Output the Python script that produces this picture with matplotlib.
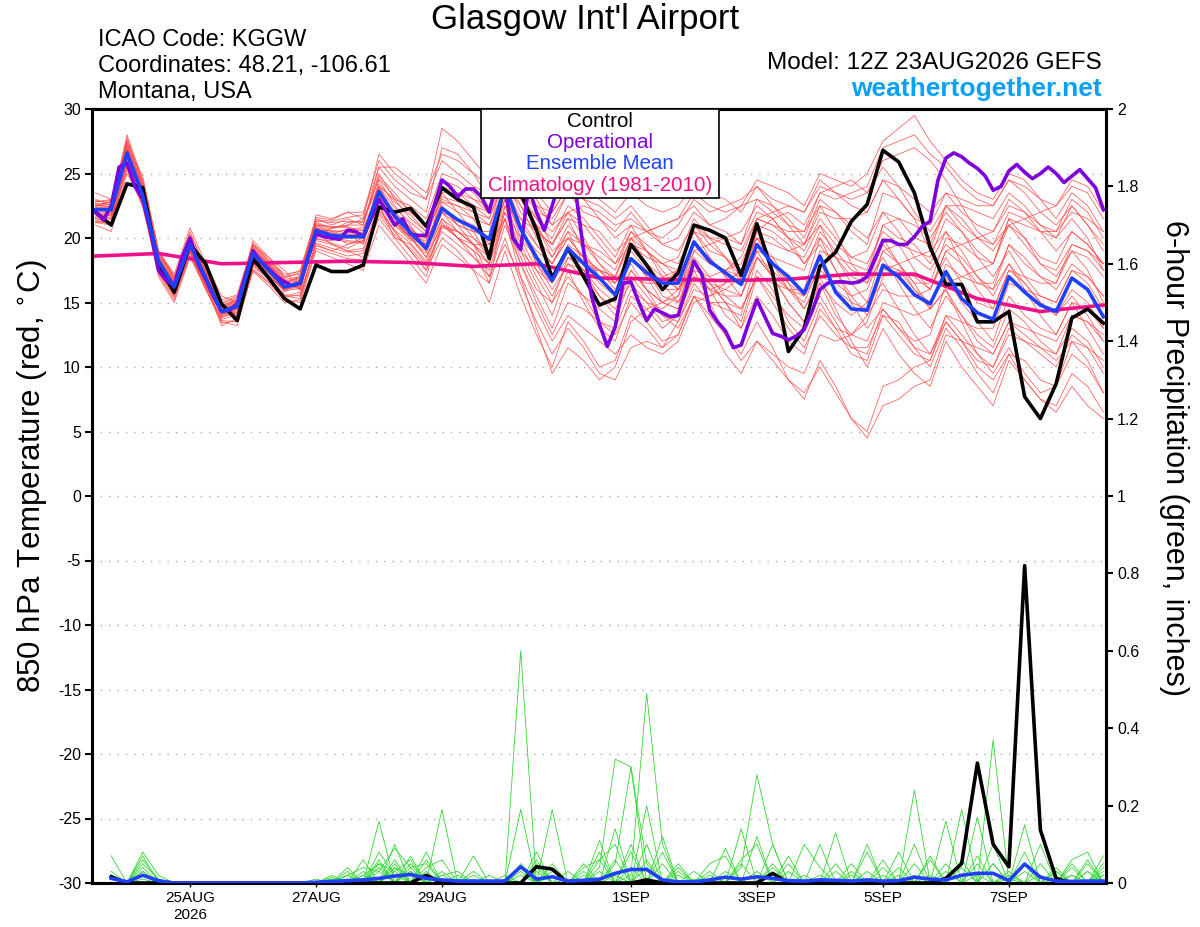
import numpy as np
import pandas as pd
import matplotlib
matplotlib.use("Agg")
import matplotlib.pyplot as plt
from matplotlib.patches import Rectangle
from matplotlib.ticker import FuncFormatter

plt.rcParams['font.family'] = ['Liberation Sans', 'DejaVu Sans']
plt.rcParams['axes.unicode_minus'] = False

# time axes (GEFS 12Z 23AUG2026 run, 6-hourly; operational 3-hourly; climatology daily)
start = pd.Timestamp("2026-08-23 12:00")
times = pd.date_range(start, periods=65, freq="6h").to_numpy()
op_times = pd.date_range(start, periods=129, freq="3h").to_numpy()
clim_times = pd.date_range(start, periods=17, freq="1D").to_numpy()
precip_times = times[1:]

tick_dates = pd.to_datetime(["2026-08-25", "2026-08-27", "2026-08-29", "2026-09-01",
                             "2026-09-03", "2026-09-05", "2026-09-07"]).to_numpy()
tick_labels = ["25AUG\n2026", "27AUG", "29AUG", "1SEP", "3SEP", "5SEP", "7SEP"]

# 850 hPa temperature (C)
control_temp = [22.0, 21.0, 24.2, 23.9, 17.8, 15.8, 19.5, 18.0, 14.9, 13.6,
                18.4, 16.9, 15.3, 14.5, 17.9, 17.4, 17.4, 17.9, 22.4, 22.0,
                22.3, 20.9, 23.9, 23.0, 22.4, 18.4, 24.5, 23.5, 20.6, 16.9,
                19.2, 17.0, 14.8, 15.3, 19.5, 17.9, 16.0, 17.3, 21.0, 20.6,
                20.0, 17.1, 21.1, 17.3, 11.2, 13.0, 17.8, 18.9, 21.3, 22.6,
                26.8, 25.9, 23.5, 19.3, 16.4, 16.4, 13.5, 13.5, 14.3, 7.7,
                6.0, 8.7, 13.8, 14.5, 13.4]

mean_temp = [22.2, 22.2, 26.6, 23.3, 18.2, 16.2, 19.5, 16.9, 14.3, 14.7,
             18.8, 17.5, 16.2, 16.5, 20.6, 20.2, 20.1, 20.1, 23.6, 21.7,
             20.4, 19.2, 22.3, 21.4, 20.8, 19.9, 24.0, 20.7, 18.5, 16.7,
             19.2, 18.0, 16.9, 15.6, 18.4, 17.3, 16.5, 16.5, 19.7, 18.2,
             17.3, 16.4, 19.5, 18.0, 17.0, 15.7, 18.6, 15.8, 14.5, 14.4,
             17.9, 17.0, 15.6, 14.9, 17.4, 15.3, 14.2, 13.7, 17.0, 15.8,
             14.8, 14.3, 16.9, 16.0, 13.9]

oper_temp = [22.0, 21.4, 22.5, 25.5, 25.8, 24.0, 23.0, 20.5, 17.5, 16.7,
             16.3, 18.5, 20.0, 18.0, 16.8, 15.5, 14.3, 14.4, 14.9, 17.0,
             19.0, 18.2, 17.6, 17.0, 16.6, 16.3, 16.5, 18.5, 20.3, 20.1,
             20.0, 19.9, 20.6, 20.5, 20.1, 21.5, 23.0, 22.0, 21.0, 21.5,
             20.3, 20.2, 20.2, 22.5, 24.5, 24.0, 23.2, 23.8, 23.8, 23.2,
             22.0, 24.5, 24.0, 20.0, 19.1, 24.0, 22.0, 20.6, 22.5, 24.5,
             25.0, 23.5, 19.0, 15.5, 13.3, 11.6, 13.1, 16.5, 16.6, 15.0,
             13.6, 14.5, 14.2, 13.9, 14.0, 16.0, 18.2, 17.2, 14.4, 13.5,
             12.8, 11.5, 11.7, 13.5, 15.2, 13.9, 12.6, 12.4, 12.1, 12.4,
             12.9, 14.3, 16.0, 16.5, 16.6, 16.6, 16.5, 16.6, 17.0, 18.4,
             19.8, 19.8, 19.5, 19.5, 20.1, 20.9, 21.3, 24.5, 26.2, 26.6,
             26.3, 25.8, 25.4, 24.8, 23.7, 24.0, 25.2, 25.7, 25.1, 24.6,
             25.0, 25.5, 25.0, 24.3, 24.8, 25.3, 24.6, 23.9, 22.2]

clim_temp = [18.6, 18.8, 18.0, 18.1, 18.2, 18.1, 17.8, 18.0, 16.9,
             16.8, 16.7, 16.8, 17.2, 17.2, 15.3, 14.3, 14.8]

member_temps = [
    [22.5, 22.8, 27.5, 24.0, 18.5, 16.0, 19.8, 17.0, 14.0, 14.2, 19.2, 18.0, 16.5, 16.0, 21.0, 20.5, 19.5, 19.8, 24.5, 22.5, 21.0, 19.0, 23.5, 22.0, 20.5, 18.5, 22.0, 19.0, 16.5, 14.0, 17.5, 15.0, 13.0, 12.0, 15.5, 14.5, 13.0, 14.0, 17.0, 16.5, 15.0, 13.5, 17.5, 16.0, 13.5, 12.0, 15.0, 13.0, 11.0, 10.5, 14.0, 13.5, 11.5, 10.0, 13.0, 11.5, 9.5, 8.0, 11.0, 10.5, 9.0, 8.5, 11.0, 10.0, 8.0],
    [21.8, 21.5, 26.0, 23.0, 17.8, 16.5, 19.0, 16.5, 14.5, 15.0, 18.5, 17.0, 16.0, 17.0, 20.0, 20.8, 21.0, 21.5, 24.0, 23.0, 22.5, 21.5, 25.0, 24.5, 23.5, 22.0, 25.5, 23.0, 21.0, 20.0, 22.5, 21.5, 20.0, 18.5, 21.0, 20.5, 19.5, 20.0, 22.0, 21.0, 20.5, 19.5, 22.0, 21.5, 20.0, 19.0, 21.5, 20.0, 18.5, 19.0, 22.0, 21.5, 20.0, 19.5, 22.5, 21.0, 20.0, 19.5, 22.0, 21.5, 20.5, 20.0, 22.5, 21.0, 19.5],
    [22.0, 22.0, 26.8, 23.5, 18.0, 15.5, 19.5, 17.0, 14.8, 14.0, 18.0, 17.5, 16.8, 16.0, 20.5, 19.5, 19.0, 18.5, 22.0, 20.5, 19.0, 17.5, 20.0, 19.0, 17.5, 15.0, 19.0, 15.5, 12.5, 10.0, 13.5, 12.0, 10.0, 10.5, 14.0, 13.0, 11.5, 13.5, 16.5, 15.0, 14.5, 14.0, 18.5, 17.0, 16.0, 15.5, 19.0, 18.5, 18.0, 17.5, 21.0, 20.0, 19.5, 18.0, 20.5, 19.0, 17.0, 15.5, 18.0, 16.0, 14.0, 12.5, 15.0, 13.0, 11.0],
    [23.0, 22.5, 28.0, 24.5, 19.0, 17.0, 20.5, 17.5, 15.0, 15.5, 19.5, 18.5, 17.0, 17.5, 21.5, 21.0, 21.5, 21.0, 25.5, 24.0, 23.0, 22.0, 27.0, 26.5, 25.0, 23.0, 26.5, 24.5, 22.5, 21.0, 23.5, 22.0, 21.5, 20.0, 21.0, 19.0, 17.5, 16.0, 18.0, 16.5, 15.0, 13.0, 15.5, 14.0, 12.0, 11.0, 14.5, 13.0, 12.5, 13.5, 17.0, 17.5, 17.0, 16.0, 19.0, 18.0, 16.5, 16.0, 19.5, 18.5, 17.0, 16.5, 19.0, 18.5, 17.0],
    [21.5, 21.2, 25.5, 22.5, 17.5, 15.8, 19.0, 16.0, 13.8, 14.5, 18.0, 17.0, 15.5, 15.8, 19.5, 19.0, 19.5, 20.0, 22.5, 20.0, 18.5, 17.0, 21.0, 20.5, 19.5, 18.0, 24.0, 22.5, 21.0, 19.0, 20.0, 18.5, 17.5, 16.0, 18.5, 17.0, 15.0, 14.5, 19.0, 19.5, 20.0, 19.5, 23.0, 22.5, 21.5, 20.0, 23.0, 22.0, 20.5, 19.5, 23.5, 23.0, 21.5, 19.0, 20.5, 18.0, 16.0, 14.5, 17.5, 17.0, 16.5, 16.5, 19.5, 19.0, 18.0],
    [22.3, 22.5, 27.0, 23.8, 18.6, 16.4, 19.7, 16.8, 14.0, 14.6, 19.0, 17.6, 16.3, 16.4, 20.8, 20.0, 20.5, 20.0, 23.8, 21.5, 20.0, 18.8, 22.0, 20.5, 19.5, 18.0, 21.5, 18.0, 15.5, 13.0, 16.5, 15.5, 14.5, 13.5, 17.0, 16.5, 16.5, 17.5, 20.5, 19.0, 18.5, 17.0, 20.0, 18.5, 16.5, 14.5, 17.0, 14.5, 12.0, 10.0, 13.0, 11.0, 9.5, 8.5, 12.0, 10.0, 8.5, 7.0, 10.5, 9.0, 7.5, 7.0, 9.5, 8.5, 6.5],
    [21.0, 20.5, 25.0, 22.8, 17.0, 15.0, 18.5, 16.5, 13.5, 13.2, 17.5, 16.5, 15.2, 15.0, 19.0, 18.5, 18.0, 17.5, 21.0, 19.5, 18.0, 16.5, 19.5, 18.5, 17.5, 16.5, 22.5, 21.5, 20.5, 19.5, 22.0, 22.5, 22.0, 21.0, 21.5, 20.5, 21.0, 21.5, 22.5, 21.0, 21.5, 22.5, 23.0, 22.0, 21.0, 20.5, 22.5, 20.5, 18.0, 16.5, 18.5, 16.5, 14.5, 13.0, 15.5, 14.0, 12.5, 11.5, 14.5, 13.5, 12.0, 11.0, 14.0, 13.5, 12.0],
    [22.8, 23.0, 26.2, 23.0, 18.0, 16.0, 19.2, 16.2, 14.2, 14.8, 18.6, 17.2, 15.8, 16.8, 20.3, 20.0, 20.0, 20.5, 23.0, 21.0, 20.0, 19.5, 22.5, 21.0, 20.5, 20.0, 24.5, 21.0, 18.0, 16.5, 18.5, 17.5, 16.0, 15.0, 19.5, 18.5, 18.0, 18.5, 21.5, 20.0, 18.5, 16.5, 19.0, 17.0, 15.0, 13.5, 16.5, 15.0, 14.0, 15.0, 19.0, 19.5, 19.0, 18.5, 21.5, 20.5, 19.0, 18.0, 21.5, 20.0, 18.0, 17.0, 19.0, 17.5, 15.0],
    [22.0, 21.8, 26.5, 23.2, 18.3, 16.6, 19.6, 16.6, 14.4, 15.0, 19.0, 17.8, 16.6, 16.2, 20.5, 20.6, 20.4, 19.5, 23.5, 21.8, 20.5, 19.0, 22.0, 21.5, 20.0, 18.5, 23.0, 19.5, 17.0, 15.0, 17.0, 15.5, 13.5, 12.5, 15.0, 13.5, 12.0, 12.5, 15.5, 14.0, 12.5, 11.0, 13.5, 11.5, 9.0, 7.5, 10.5, 8.5, 6.0, 5.0, 8.5, 9.0, 10.0, 10.5, 14.0, 13.5, 13.0, 13.0, 16.5, 16.0, 15.5, 15.0, 17.5, 17.0, 15.5],
    [22.6, 22.2, 27.8, 24.2, 18.8, 16.8, 20.2, 17.2, 14.6, 15.2, 19.5, 18.2, 17.0, 17.2, 21.2, 20.8, 21.0, 21.0, 24.8, 23.5, 22.0, 21.0, 24.0, 23.0, 22.0, 21.5, 25.0, 22.5, 20.0, 18.5, 21.0, 19.5, 18.0, 17.0, 20.0, 19.0, 18.0, 17.5, 21.0, 20.0, 19.5, 19.0, 21.5, 21.0, 20.5, 20.5, 23.5, 23.0, 23.5, 24.0, 27.0, 27.5, 28.0, 26.5, 25.5, 24.0, 23.0, 22.5, 24.5, 24.0, 23.0, 22.5, 24.0, 23.5, 21.5],
    [21.5, 21.8, 26.0, 22.8, 17.6, 15.5, 19.0, 16.8, 14.5, 14.2, 18.2, 17.0, 16.0, 16.6, 20.0, 19.6, 19.2, 19.8, 22.8, 21.0, 19.8, 19.6, 22.8, 22.0, 21.5, 21.0, 23.5, 20.0, 17.5, 15.5, 18.0, 17.0, 15.5, 14.0, 17.5, 16.0, 15.0, 15.5, 19.5, 18.5, 17.0, 15.5, 18.5, 17.5, 16.0, 15.0, 18.0, 16.0, 15.0, 14.5, 18.0, 17.5, 16.0, 15.0, 17.0, 15.0, 13.5, 12.0, 15.5, 14.0, 13.0, 12.5, 15.0, 14.5, 13.0],
    [23.5, 23.0, 27.2, 24.8, 19.0, 17.2, 20.8, 18.0, 15.5, 15.0, 19.8, 18.5, 17.5, 16.0, 21.8, 21.5, 22.0, 21.5, 26.5, 25.0, 24.0, 23.0, 28.5, 27.5, 26.0, 24.5, 27.0, 23.5, 21.0, 18.5, 20.5, 18.0, 16.5, 15.5, 17.5, 16.0, 15.0, 14.5, 17.0, 16.0, 15.5, 15.5, 19.0, 18.5, 18.0, 17.5, 20.5, 19.0, 17.5, 17.0, 20.0, 18.0, 16.5, 14.5, 16.0, 13.5, 11.0, 9.5, 11.5, 9.5, 8.0, 8.5, 12.0, 11.5, 10.5],
    [22.1, 22.4, 26.4, 23.6, 18.4, 16.2, 19.3, 17.1, 14.1, 14.3, 18.4, 17.3, 16.1, 16.8, 20.9, 20.3, 20.7, 20.8, 23.2, 21.5, 20.0, 20.0, 22.0, 21.0, 20.5, 20.5, 25.5, 23.5, 21.5, 19.5, 21.5, 19.0, 17.0, 16.5, 19.0, 17.5, 15.5, 15.0, 18.0, 16.0, 14.0, 13.0, 17.0, 16.5, 16.0, 16.0, 20.0, 18.5, 17.0, 16.5, 19.5, 18.0, 16.5, 16.5, 20.0, 19.5, 18.5, 18.0, 21.5, 21.0, 20.5, 20.5, 23.0, 22.0, 20.0],
    [21.2, 21.0, 25.8, 22.6, 17.3, 15.4, 18.8, 16.4, 13.2, 13.8, 17.8, 16.8, 15.5, 15.3, 19.8, 19.5, 19.0, 19.2, 22.5, 20.5, 19.0, 17.5, 21.0, 20.0, 19.0, 16.5, 20.0, 16.5, 13.5, 11.0, 13.0, 11.5, 9.5, 9.0, 11.5, 12.0, 11.5, 12.5, 15.5, 15.0, 15.0, 14.5, 17.0, 15.5, 14.0, 13.0, 15.5, 13.5, 11.5, 11.0, 14.5, 13.0, 11.5, 11.0, 14.0, 12.5, 11.0, 10.0, 13.0, 12.0, 11.0, 10.0, 12.5, 11.5, 9.5],
    [22.9, 22.7, 26.9, 23.4, 18.1, 16.7, 19.9, 17.4, 14.7, 15.3, 19.1, 17.7, 16.4, 17.1, 21.3, 21.2, 21.3, 21.2, 25.0, 23.0, 21.5, 20.5, 23.0, 22.5, 22.0, 21.0, 24.0, 21.5, 19.5, 18.0, 20.5, 19.5, 18.5, 17.5, 20.5, 19.5, 18.5, 18.0, 20.5, 18.5, 17.0, 16.5, 20.5, 20.0, 19.0, 18.5, 21.0, 19.5, 18.5, 18.0, 20.5, 19.5, 17.5, 16.0, 18.5, 16.5, 15.0, 14.5, 17.5, 16.5, 15.0, 14.0, 16.0, 15.0, 13.0],
    [21.7, 21.6, 26.3, 23.1, 17.9, 16.1, 19.4, 16.3, 14.3, 14.9, 18.7, 17.4, 16.2, 16.3, 20.4, 20.1, 19.8, 19.7, 23.3, 21.2, 20.2, 18.5, 21.5, 20.5, 19.5, 18.5, 22.5, 19.0, 17.5, 16.5, 19.5, 18.5, 17.5, 16.5, 18.5, 17.0, 16.0, 16.0, 18.5, 17.0, 15.5, 14.5, 17.0, 15.0, 13.0, 11.5, 14.0, 12.5, 11.5, 11.5, 14.0, 12.5, 11.0, 10.5, 13.5, 12.0, 10.0, 9.0, 11.0, 9.0, 7.5, 6.5, 8.5, 7.0, 6.0],
    [22.4, 22.9, 27.3, 23.9, 18.7, 16.9, 20.0, 17.3, 14.9, 14.4, 18.9, 17.9, 16.7, 16.9, 21.0, 20.9, 20.9, 20.3, 24.2, 22.8, 21.8, 20.5, 24.5, 24.0, 23.0, 22.5, 26.0, 24.0, 22.0, 21.5, 23.5, 23.0, 22.5, 21.5, 22.5, 21.0, 19.5, 19.0, 21.0, 19.5, 18.5, 17.5, 20.0, 18.0, 16.0, 14.5, 16.5, 14.0, 12.5, 12.0, 15.0, 14.5, 14.0, 14.5, 18.0, 17.0, 16.5, 16.5, 19.5, 18.0, 17.0, 16.0, 18.0, 17.0, 15.5],
    [21.9, 21.4, 26.1, 22.9, 17.7, 15.9, 19.1, 16.6, 13.9, 14.1, 18.3, 17.1, 15.9, 16.1, 19.9, 19.8, 20.2, 20.4, 23.0, 21.2, 20.0, 19.8, 22.2, 21.5, 21.0, 20.0, 23.0, 20.5, 19.0, 18.0, 20.0, 18.5, 17.0, 15.5, 17.0, 15.5, 14.0, 13.0, 15.5, 13.5, 11.0, 9.5, 12.0, 10.5, 9.0, 8.0, 10.0, 8.0, 6.0, 4.5, 7.0, 7.5, 8.5, 9.0, 12.5, 12.0, 11.5, 11.0, 13.5, 13.0, 12.5, 12.0, 14.0, 13.5, 12.5],
    [22.7, 22.6, 27.6, 24.4, 19.0, 17.0, 20.3, 17.8, 15.2, 15.6, 19.6, 18.3, 17.2, 17.4, 21.6, 21.4, 22.0, 22.0, 26.0, 24.5, 23.5, 23.0, 26.0, 25.0, 24.0, 23.5, 27.5, 26.0, 23.5, 22.0, 24.0, 23.0, 21.5, 20.5, 22.0, 20.5, 20.0, 21.0, 23.0, 22.0, 22.5, 23.0, 24.0, 23.0, 22.5, 22.0, 24.5, 23.5, 22.5, 22.0, 24.5, 24.0, 23.0, 22.0, 23.5, 22.0, 21.0, 20.5, 22.5, 22.0, 21.0, 20.5, 22.0, 21.5, 20.5],
    [21.3, 21.2, 25.6, 22.7, 17.4, 15.6, 18.6, 16.0, 13.6, 13.5, 17.6, 16.6, 15.4, 15.6, 19.4, 19.0, 18.6, 18.8, 21.5, 20.0, 19.5, 18.0, 20.5, 19.5, 18.5, 17.0, 21.0, 18.0, 15.0, 12.5, 15.0, 14.5, 13.5, 13.0, 16.0, 15.0, 14.5, 15.5, 18.0, 16.5, 16.0, 15.5, 18.5, 17.0, 15.0, 13.5, 17.0, 16.5, 16.5, 17.0, 21.0, 21.5, 21.0, 20.0, 22.0, 20.5, 18.5, 17.0, 19.0, 17.0, 15.5, 15.0, 17.5, 16.5, 14.5],
    [22.2, 22.0, 26.7, 23.6, 18.4, 16.3, 19.6, 16.9, 14.4, 14.9, 18.9, 17.6, 16.3, 16.6, 20.7, 20.4, 20.3, 20.0, 23.9, 22.0, 20.8, 19.5, 22.8, 22.5, 21.5, 19.5, 21.5, 18.5, 16.0, 15.0, 18.5, 18.0, 17.5, 17.0, 20.0, 20.5, 21.0, 21.5, 23.5, 22.5, 22.0, 22.5, 24.5, 24.0, 23.5, 22.5, 25.0, 24.5, 24.0, 25.0, 27.5, 28.5, 29.5, 27.5, 26.0, 24.5, 23.5, 23.0, 25.0, 24.5, 23.0, 21.5, 23.5, 22.5, 20.5],
    [21.6, 21.9, 26.2, 23.0, 17.9, 16.0, 19.3, 16.7, 14.2, 14.5, 18.6, 17.4, 16.0, 16.4, 20.4, 20.0, 20.0, 20.2, 23.4, 21.5, 20.6, 20.0, 23.5, 23.5, 23.0, 22.0, 26.0, 25.0, 23.0, 21.0, 22.0, 20.0, 18.0, 16.5, 18.0, 16.0, 14.0, 13.5, 16.0, 15.5, 16.0, 17.0, 20.5, 21.5, 22.0, 21.0, 23.5, 24.0, 24.5, 23.5, 25.5, 24.0, 22.0, 20.5, 22.5, 21.5, 20.0, 19.0, 21.0, 19.5, 18.0, 17.5, 19.5, 19.0, 17.5],
    [22.4, 22.1, 26.9, 23.7, 18.5, 16.5, 19.8, 17.0, 14.6, 15.1, 19.2, 17.9, 16.6, 16.7, 20.8, 20.5, 20.6, 20.6, 23.7, 21.9, 20.7, 19.3, 22.4, 21.0, 19.5, 17.0, 19.5, 17.0, 14.5, 12.0, 14.0, 13.0, 12.0, 11.0, 12.5, 11.5, 11.0, 12.0, 15.0, 15.5, 16.5, 17.5, 20.0, 19.5, 19.0, 19.5, 22.0, 21.5, 21.5, 22.0, 24.5, 23.0, 21.5, 21.0, 23.5, 23.0, 22.5, 22.5, 24.5, 23.5, 22.0, 21.0, 22.5, 21.0, 19.0],
    [22.0, 22.3, 26.5, 23.3, 18.2, 16.2, 19.4, 16.7, 14.3, 14.6, 18.8, 17.5, 16.1, 16.5, 20.5, 20.2, 20.1, 20.1, 23.6, 21.7, 20.3, 19.0, 21.5, 20.0, 19.5, 19.5, 23.0, 21.0, 19.5, 18.0, 20.0, 19.5, 19.0, 18.0, 20.5, 19.0, 17.0, 16.0, 17.5, 15.0, 12.5, 10.5, 12.0, 11.0, 10.0, 9.5, 12.5, 12.0, 12.5, 14.0, 17.5, 18.0, 18.5, 19.0, 22.5, 22.5, 22.0, 21.5, 23.5, 22.5, 21.0, 20.0, 21.5, 20.0, 17.5],
    [22.8, 22.9, 27.4, 24.1, 18.9, 16.9, 20.1, 17.6, 14.9, 15.4, 19.4, 18.1, 16.9, 17.3, 21.4, 21.3, 21.6, 21.8, 25.5, 25.5, 24.5, 23.5, 26.5, 26.0, 25.0, 24.0, 26.5, 24.0, 22.5, 22.0, 24.0, 24.0, 23.0, 22.0, 23.5, 22.5, 22.0, 22.5, 24.0, 23.5, 23.0, 22.0, 24.0, 22.5, 21.0, 19.5, 21.0, 18.5, 16.5, 15.0, 16.5, 14.5, 12.5, 11.0, 13.5, 12.0, 10.5, 10.0, 12.5, 12.0, 11.5, 11.0, 13.0, 12.0, 10.0],
    [21.4, 21.0, 25.3, 22.4, 17.2, 15.2, 18.6, 16.1, 13.4, 13.6, 17.4, 16.3, 15.0, 15.2, 19.2, 18.8, 18.4, 18.3, 21.8, 20.2, 19.2, 17.8, 20.8, 20.5, 20.0, 19.0, 23.5, 21.0, 18.0, 16.0, 18.0, 17.5, 17.5, 17.0, 19.5, 19.0, 18.0, 17.0, 19.5, 18.0, 17.5, 18.0, 21.0, 20.5, 19.5, 18.0, 20.0, 17.5, 15.5, 14.0, 16.0, 15.5, 15.5, 16.0, 19.0, 19.5, 20.0, 20.5, 23.0, 22.0, 20.5, 19.0, 20.5, 19.5, 18.0],
    [22.5, 22.6, 27.1, 23.7, 18.5, 16.6, 19.9, 17.2, 14.7, 15.1, 19.0, 17.8, 16.6, 16.9, 21.0, 20.7, 21.2, 21.3, 24.6, 23.2, 22.0, 21.0, 24.0, 23.5, 22.5, 21.5, 24.5, 22.0, 20.5, 19.5, 21.5, 21.0, 20.5, 19.0, 20.0, 18.0, 16.5, 15.0, 17.0, 16.0, 16.5, 17.5, 21.5, 22.0, 22.5, 22.0, 24.0, 23.5, 23.0, 23.5, 26.0, 26.5, 27.0, 26.0, 24.5, 22.5, 20.5, 19.5, 21.0, 20.0, 18.5, 18.0, 20.5, 19.5, 18.0],
    [21.9, 21.7, 26.2, 23.1, 18.0, 16.0, 19.2, 16.6, 14.1, 14.5, 18.5, 17.3, 16.0, 16.2, 20.2, 19.9, 19.7, 19.6, 23.1, 21.3, 20.0, 18.5, 21.0, 20.0, 18.5, 17.5, 21.5, 17.0, 13.0, 9.5, 11.5, 10.5, 9.0, 10.0, 13.5, 14.5, 15.0, 16.0, 19.0, 18.0, 17.5, 17.0, 19.5, 18.0, 16.5, 15.5, 17.5, 16.5, 15.5, 16.0, 19.0, 18.0, 16.0, 14.5, 16.0, 14.0, 12.0, 11.0, 13.5, 12.5, 11.5, 10.5, 12.0, 10.5, 8.0],
    [22.6, 22.4, 27.0, 23.9, 18.6, 16.7, 20.0, 17.4, 14.8, 15.2, 19.3, 18.0, 16.8, 17.0, 21.1, 20.8, 20.8, 20.6, 24.0, 22.3, 21.2, 20.2, 23.2, 22.8, 22.5, 22.0, 25.0, 23.0, 21.5, 20.5, 22.0, 21.0, 19.5, 18.0, 19.5, 18.0, 17.0, 17.5, 20.5, 20.0, 20.0, 20.5, 22.5, 21.5, 20.0, 18.0, 19.5, 17.5, 15.0, 13.0, 14.5, 13.0, 12.0, 12.5, 16.5, 17.0, 17.5, 18.0, 21.0, 21.5, 22.0, 22.5, 24.5, 24.0, 22.0],
    [21.2, 21.3, 25.9, 22.8, 17.6, 15.7, 18.9, 16.3, 13.7, 14.0, 17.9, 16.9, 15.6, 15.5, 19.6, 19.2, 18.9, 19.0, 22.2, 20.6, 19.6, 18.2, 21.2, 20.0, 19.0, 18.0, 22.0, 20.0, 18.5, 17.0, 19.0, 17.5, 15.5, 14.5, 16.5, 15.0, 13.5, 14.0, 17.5, 17.0, 17.5, 18.5, 21.5, 21.0, 20.0, 19.5, 22.5, 22.0, 21.0, 20.0, 22.0, 20.5, 18.5, 17.5, 19.5, 18.5, 17.0, 16.0, 18.0, 16.5, 15.0, 14.0, 15.5, 14.0, 12.0],
]

# 6-hour precipitation (inches), periods ending 18Z 23AUG .. 12Z 8SEP
control_precip = [0.016, 0, 0, 0, 0, 0, 0, 0, 0, 0, 0, 0, 0, 0, 0, 0,
                  0, 0, 0, 0, 0.02, 0, 0, 0, 0, 0, 0, 0.042, 0.036, 0, 0, 0,
                  0, 0, 0.008, 0, 0, 0, 0, 0, 0, 0, 0.025, 0, 0, 0, 0, 0,
                  0, 0, 0, 0, 0, 0.012, 0.05, 0.31, 0.10, 0.042, 0.82, 0.137, 0.012, 0, 0, 0]

mean_precip = [0.012, 0.003, 0.02, 0.006, 0, 0, 0, 0, 0, 0, 0, 0, 0, 0.002, 0.004, 0.006,
               0.008, 0.012, 0.018, 0.022, 0.012, 0.008, 0.005, 0.005, 0.005, 0.005, 0.042, 0.01, 0.016, 0.005, 0.007, 0.01,
               0.025, 0.035, 0.035, 0.008, 0.003, 0.003, 0.008, 0.015, 0.01, 0.016, 0.012, 0.006, 0.005, 0.008, 0.007, 0.005,
               0.008, 0.005, 0.006, 0.015, 0.01, 0.008, 0.02, 0.025, 0.025, 0.006, 0.049, 0.015, 0.005, 0.004, 0.005, 0.005]

member_precips = [
    [.07, 0, .08, .02, 0, 0, 0, 0, 0, 0, 0, 0, 0, 0, 0, 0,
     0, .16, 0, 0, 0, 0, 0, 0, 0, 0, .6, 0, 0, 0, 0, 0,
     0, 0, .1, 0, 0, 0, 0, 0, .04, .28, .1, 0, 0, 0, 0, 0,
     0, 0, 0, .02, 0, 0, 0, 0, .05, 0, 0, 0, 0, 0, 0, .02],
    [.03, 0, .07, 0, 0, 0, 0, 0, 0, 0, 0, 0, 0, 0, .02, 0,
     .03, 0, 0, .03, 0, 0, 0, .01, 0, 0, 0, 0, 0, 0, 0, .04,
     .32, .30, .05, 0, 0, 0, 0, 0, 0, 0, 0, .03, 0, 0, 0, 0,
     0, 0, 0, 0, .02, 0, 0, 0, 0, 0, 0, 0, .03, 0, 0, 0],
    [.02, 0, .06, .01, 0, 0, 0, 0, 0, 0, 0, 0, 0, 0, 0, .04,
     0, 0, .06, 0, 0, 0, 0, 0, .02, 0, 0, 0, 0, 0, 0, 0,
     .05, .3, 0, 0, .05, 0, 0, 0, 0, 0, 0, 0, 0, .02, 0, 0,
     0, 0, 0, 0, 0, .03, 0, 0, 0, 0, 0, 0, 0, .05, 0, 0],
    [0, 0, .05, .01, 0, 0, 0, 0, 0, 0, 0, 0, 0, 0, 0, 0,
     .06, 0, 0, .05, 0, 0, 0, 0, 0, 0, 0, .03, 0, 0, 0, 0,
     0, .02, .49, .1, 0, 0, 0, 0, 0, 0, 0, 0, 0, 0, .03, 0,
     0, 0, 0, 0, 0, 0, .04, 0, 0, 0, 0, 0, 0, 0, .03, 0],
    [.01, 0, .04, 0, 0, 0, 0, 0, 0, 0, 0, 0, 0, 0, .01, 0,
     0, .05, 0, 0, 0, .03, 0, 0, 0, 0, 0, 0, .02, 0, 0, 0,
     0, 0, 0, .12, 0, 0, 0, 0, 0, 0, 0, 0, 0, 0, 0, .02,
     0, 0, 0, 0, 0, 0, 0, .07, 0, 0, 0, 0, 0, 0, 0, .02],
    [0, 0, .03, 0, 0, 0, 0, 0, 0, 0, 0, 0, 0, 0, 0, .02,
     0, .04, 0, 0, .06, 0, 0, 0, 0, 0, .05, 0, 0, 0, 0, 0,
     0, 0, 0, 0, .04, 0, 0, 0, 0, 0, 0, 0, 0, 0, 0, 0,
     .03, 0, 0, 0, 0, 0, 0, 0, .05, 0, 0, 0, 0, 0, 0, 0],
    [0, 0, .02, 0, 0, 0, 0, 0, 0, 0, 0, 0, 0, 0, .015, 0,
     0, 0, .1, 0, 0, 0, 0, 0, 0, 0, 0, 0, 0, 0, .03, 0,
     0, 0, 0, 0, 0, 0, .03, 0, 0, 0, 0, 0, 0, 0, 0, 0,
     0, 0, .02, 0, 0, 0, 0, 0, 0, .01, 0, 0, 0, 0, 0, 0],
    [0, 0, .02, 0, 0, 0, 0, 0, 0, 0, 0, 0, 0, 0, 0, .01,
     0, 0, .05, 0, 0, 0, .01, 0, 0, 0, 0, 0, 0, 0, 0, 0,
     .14, 0, 0, 0, 0, 0, 0, .09, 0, 0, 0, 0, 0, 0, 0, 0,
     0, 0, 0, .05, 0, 0, 0, 0, 0, 0, .05, 0, 0, 0, 0, 0],
    [0, 0, .01, 0, 0, 0, 0, 0, 0, 0, 0, 0, 0, 0, 0, 0,
     .02, 0, 0, .07, 0, 0, 0, 0, 0, 0, .02, 0, 0, 0, 0, 0,
     0, .1, 0, 0, 0, 0, 0, 0, .14, 0, 0, 0, 0, 0, 0, 0,
     0, 0, 0, 0, .06, 0, 0, 0, 0, 0, 0, .02, 0, 0, 0, 0],
    [0, 0, 0, 0, 0, 0, 0, 0, 0, 0, 0, 0, 0, 0, 0, .02,
     0, 0, 0, .04, 0, 0, 0, 0, 0, 0, 0, .08, 0, 0, 0, 0,
     0, 0, .2, 0, 0, 0, 0, 0, 0, .12, 0, 0, 0, 0, 0, 0,
     0, 0, 0, 0, 0, .16, 0, 0, 0, 0, 0, 0, .01, 0, 0, 0],
    [0, 0, 0, 0, 0, 0, 0, 0, 0, 0, 0, 0, 0, 0, 0, 0,
     0, .03, 0, 0, .08, 0, 0, 0, 0, 0, 0, .05, 0, 0, 0, 0,
     0, 0, .06, 0, 0, 0, 0, 0, 0, 0, .1, 0, 0, 0, 0, 0,
     0, 0, 0, 0, 0, 0, .19, 0, 0, 0, 0, 0, 0, .02, 0, 0],
    [0, 0, 0, 0, 0, 0, 0, 0, 0, 0, 0, 0, 0, 0, 0, 0,
     0, .06, 0, 0, .03, 0, 0, 0, 0, 0, 0, 0, .19, 0, 0, 0,
     0, 0, 0, .08, 0, 0, 0, 0, 0, 0, 0, .05, 0, 0, 0, 0,
     0, 0, 0, 0, 0, 0, 0, .17, 0, 0, 0, 0, 0, 0, .06, 0],
    [0, 0, 0, 0, 0, 0, 0, 0, 0, 0, 0, 0, 0, 0, 0, 0,
     0, 0, .04, 0, 0, .19, 0, 0, 0, 0, 0, 0, 0, .01, 0, 0,
     0, 0, 0, 0, .03, 0, 0, 0, 0, 0, 0, 0, .02, 0, 0, 0,
     0, 0, 0, 0, 0, 0, 0, .02, 0, 0, 0, 0, 0, 0, .05, 0],
    [0, 0, 0, 0, 0, 0, 0, 0, 0, 0, 0, 0, 0, 0, 0, 0,
     0, 0, .03, 0, 0, .02, 0, 0, 0, 0, 0, 0, 0, 0, .05, 0,
     0, 0, 0, 0, 0, .01, 0, 0, 0, 0, 0, 0, 0, .1, 0, 0,
     0, 0, 0, 0, 0, 0, 0, 0, .37, 0, 0, 0, 0, 0, 0, .07],
    [0, 0, 0, 0, 0, 0, 0, 0, 0, 0, 0, 0, 0, 0, 0, 0,
     0, 0, 0, .03, 0, 0, 0, .02, 0, 0, 0, 0, 0, 0, 0, .11,
     0, 0, 0, 0, 0, 0, .02, 0, 0, 0, 0, 0, 0, 0, .13, 0,
     0, 0, 0, 0, 0, 0, 0, 0, 0, .02, 0, 0, 0, 0, 0, .03],
    [0, 0, 0, 0, 0, 0, 0, 0, 0, 0, 0, 0, 0, 0, 0, 0,
     0, 0, 0, 0, .02, 0, 0, 0, 0, 0, .03, 0, 0, 0, 0, .06,
     0, 0, 0, 0, 0, 0, 0, .03, 0, 0, 0, 0, 0, 0, 0, .05,
     0, 0, 0, 0, 0, 0, 0, 0, 0, 0, .15, 0, 0, 0, 0, 0],
    [0, 0, 0, 0, 0, 0, 0, 0, 0, 0, 0, 0, 0, 0, 0, 0,
     0, 0, 0, 0, 0, 0, .01, 0, 0, 0, 0, 0, .03, 0, 0, 0,
     0, .04, 0, 0, 0, 0, 0, 0, 0, 0, 0, 0, 0, 0, 0, 0,
     .1, 0, 0, 0, 0, 0, 0, 0, 0, 0, .03, 0, 0, 0, 0, 0],
    [0, 0, 0, 0, 0, 0, 0, 0, 0, 0, 0, 0, 0, 0, 0, 0,
     0, 0, 0, 0, 0, 0, 0, .07, 0, 0, 0, 0, 0, 0, .02, 0,
     0, 0, 0, 0, 0, 0, 0, 0, .05, 0, 0, 0, 0, 0, 0, 0,
     0, .02, 0, 0, 0, 0, 0, 0, 0, 0, 0, .1, 0, 0, 0, 0],
    [0, 0, 0, 0, 0, 0, 0, 0, 0, 0, 0, 0, 0, 0, 0, 0,
     0, 0, 0, 0, 0, 0, 0, 0, 0, .01, 0, 0, 0, 0, 0, .03,
     0, 0, 0, 0, 0, 0, 0, 0, 0, .03, 0, 0, 0, 0, 0, 0,
     0, 0, .08, 0, 0, 0, 0, 0, 0, 0, 0, 0, .03, 0, 0, 0],
    [0, 0, 0, 0, 0, 0, 0, 0, 0, 0, 0, 0, 0, 0, 0, 0,
     0, 0, 0, 0, 0, 0, 0, 0, 0, 0, .19, 0, 0, 0, 0, 0,
     .02, 0, 0, 0, 0, 0, 0, 0, 0, 0, .04, 0, 0, 0, 0, 0,
     0, 0, 0, .24, 0, 0, 0, 0, 0, 0, 0, 0, 0, .04, 0, 0],
    [0, 0, 0, 0, 0, 0, 0, 0, 0, 0, 0, 0, 0, 0, 0, .02,
     .04, .03, .09, .04, .05, 0, 0, .03, 0, 0, 0, .06, 0, 0, .04, .06,
     .1, 0, 0, 0, 0, 0, .05, .07, 0, 0, 0, 0, .1, .04, 0, 0,
     .08, 0, 0, 0, .07, 0, 0, 0, 0, 0, 0, .05, 0, .06, .08, 0],
    [0, 0, 0, 0, 0, 0, 0, 0, 0, 0, 0, 0, 0, 0, .01, 0,
     .02, .05, .03, .06, 0, .02, .03, 0, 0, 0, .04, 0, .05, 0, 0, .08,
     0, 0, .04, 0, 0, .03, 0, 0, .06, .1, 0, 0, 0, 0, .05, 0,
     0, 0, .04, 0, 0, 0, .06, 0, .1, 0, 0, 0, .04, 0, 0, .05],
    [0, 0, .03, 0, 0, 0, 0, 0, 0, 0, 0, 0, 0, .01, 0, .03,
     0, .08, .02, 0, .04, .06, 0, 0, 0, .02, 0, .04, 0, .03, 0, 0,
     0, .08, 0, .05, 0, 0, 0, 0, 0, 0, 0, .07, 0, 0, 0, .03,
     0, .06, 0, .1, 0, 0, 0, .05, 0, 0, .08, 0, 0, 0, .03, 0],
    [.02, 0, 0, 0, 0, 0, 0, 0, 0, 0, 0, 0, 0, 0, 0, 0,
     .01, 0, .04, .02, 0, 0, .02, 0, 0, 0, 0, 0, .02, 0, 0, 0,
     .06, 0, 0, 0, .02, 0, 0, 0, 0, 0, .05, 0, 0, 0, 0, 0,
     0, .04, 0, 0, 0, .05, 0, 0, 0, .03, 0, 0, 0, .02, 0, .04],
]

temp_ticks = list(range(-30, 31, 5))
precip_ticks = [0, 0.2, 0.4, 0.6, 0.8, 1.0, 1.2, 1.4, 1.6, 1.8, 2.0]

# colours
RED = "#ff4a4a"
GREEN = "#33d633"
PURPLE = "#8000dd"
BLUE = "#2040ff"
MAGENTA = "#ee1188"

fig = plt.figure(figsize=(12, 9.27), dpi=100)
ax = fig.add_axes([92 / 1200, 44 / 927, 1014 / 1200, 774 / 927])
ax2 = ax.twinx()

# temperature on the left axis
for v in temp_ticks[1:-1]:
    ax.axhline(v, color="#aaaaaa", lw=1.0, ls=(0, (1, 5)), zorder=0.5)
for m in member_temps:
    ax.plot(times, m, color=RED, lw=0.6, alpha=0.85, zorder=1)
ax.plot(clim_times, clim_temp, color=MAGENTA, lw=2.6, zorder=3)
ax.plot(times, control_temp, color="black", lw=2.6, zorder=4)
ax.plot(op_times, oper_temp, color=PURPLE, lw=2.6, zorder=4.5)
ax.plot(times, mean_temp, color=BLUE, lw=2.6, zorder=5)

# precipitation on the right axis
for m in member_precips:
    ax2.plot(precip_times, m, color=GREEN, lw=0.6, zorder=1)
ax2.plot(precip_times, control_precip, color="black", lw=2.6, zorder=4)
ax2.plot(precip_times, mean_precip, color=BLUE, lw=2.6, zorder=5)

ax.set_ylim(-30, 30)
ax2.set_ylim(0, 2)
xpad_l = np.timedelta64(80, "m")
xpad_r = np.timedelta64(60, "m")
ax.set_xlim(times[0] - xpad_l, times[-1] + xpad_r)

ax.set_yticks(temp_ticks)
ax2.set_yticks(precip_ticks)
ax2.yaxis.set_major_formatter(FuncFormatter(lambda v, p: "%g" % v))
ax.set_xticks(tick_dates)
ax.set_xticklabels(tick_labels)

ax.tick_params(axis="y", direction="out", length=5, width=1.5, labelsize=11.5, pad=3)
ax2.tick_params(axis="y", direction="out", length=5, width=1.5, labelsize=11.5, pad=3)
ax.tick_params(axis="x", direction="out", length=3, width=1, labelsize=11, pad=3)

for a in (ax, ax2):
    for s in a.spines.values():
        s.set_linewidth(2.2)

# axis titles placed by their centres
fig.text(32 / 1200, 1 - 476 / 927, "850 hPa Temperature (red, $^{\\circ}$C)",
         fontsize=22.5, rotation=90, ha="center", va="center")
fig.text(1174 / 1200, 1 - 458 / 927, "6-hour Precipitation (green, inches)",
         fontsize=22, rotation=-90, ha="center", va="center")

# legend box
lx0 = (481 - 92) / 1014
lx1 = (719 - 92) / 1014
ly0 = (883 - 198) / 774
ax2.add_patch(Rectangle((lx0, ly0), lx1 - lx0, 1.0 - ly0, transform=ax2.transAxes,
                        facecolor="white", edgecolor="black", lw=1.2, zorder=20,
                        clip_on=False))
legend_items = [("Control", "black"), ("Operational", PURPLE),
                ("Ensemble Mean", BLUE), ("Climatology (1981-2010)", MAGENTA)]
legend_y = [121, 142, 163, 185]
for (txt, col), yy in zip(legend_items, legend_y):
    ax2.text((lx0 + lx1) / 2, (883 - yy) / 774, txt, color=col, fontsize=14.8,
             ha="center", va="center", transform=ax2.transAxes, zorder=21)

# header texts
fig.text(585 / 1200, 1 - 19 / 927, "Glasgow Int'l Airport", fontsize=25,
         ha="center", va="center")
fig.text(98 / 1200, 1 - 40 / 927, "ICAO Code: KGGW", fontsize=17, ha="left", va="center")
fig.text(98 / 1200, 1 - 66 / 927, "Coordinates: 48.21, -106.61", fontsize=17,
         ha="left", va="center")
fig.text(98 / 1200, 1 - 92 / 927, "Montana, USA", fontsize=17, ha="left", va="center")
fig.text(1102 / 1200, 1 - 63 / 927, "Model: 12Z 23AUG2026 GEFS", fontsize=17.5,
         ha="right", va="center")
fig.text(1102 / 1200, 1 - 89 / 927, "weathertogether.net", fontsize=19,
         fontweight="bold", color="#0aa0f5", ha="right", va="center")

fig.savefig("out.png", dpi=100)
